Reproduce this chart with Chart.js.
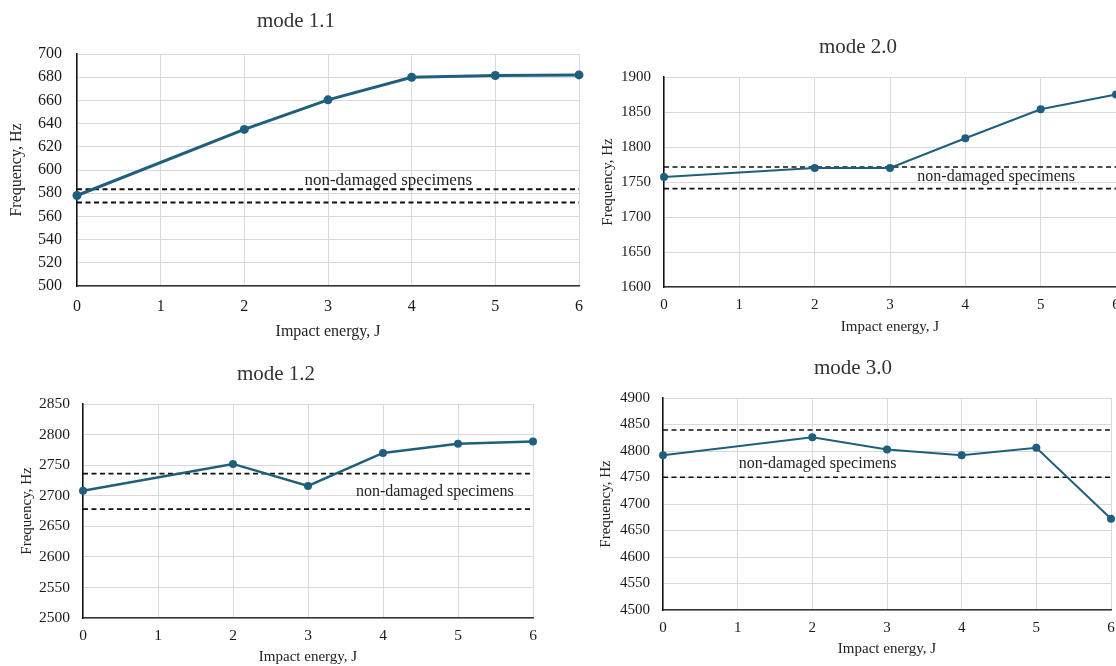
<!DOCTYPE html>
<html>
<head>
<meta charset="utf-8">
<script src="https://cdn.jsdelivr.net/npm/chart.js@4.4.1/dist/chart.umd.min.js"></script>
<style>
  html, body { margin: 0; padding: 0; background: #fff; }
  body { width: 1116px; height: 666px; position: relative; overflow: hidden; }
  canvas { position: absolute; }
</style>
</head>
<body>
<canvas id="c11" width="600" height="346" style="left:0;top:0"></canvas>
<canvas id="c20" width="540" height="340" style="left:596px;top:0"></canvas>
<canvas id="c12" width="560" height="316" style="left:0;top:350px"></canvas>
<canvas id="c30" width="540" height="316" style="left:596px;top:350px"></canvas>
<script>
// impact energy, J
const energy = [0, 2, 3, 4, 5, 6];
const energyTicks = [0, 1, 2, 3, 4, 5, 6];

// natural frequencies, Hz
const mode11 = [578, 635, 660.5, 680, 681.5, 682];
const mode20 = [1757, 1770, 1770, 1812.5, 1854, 1875];
const mode12 = [2708, 2752, 2716, 2770, 2785, 2788.5];
const mode30 = [4792, 4826, 4803, 4792, 4806, 4672];

// non-damaged specimens band [lower, upper]
const band11 = [572, 583.5];
const band20 = [1740.5, 1771.5];
const band12 = [2678, 2736];
const band30 = [4750.5, 4839.5];

// y axis [min, max, step]
const yAxis11 = [500, 700, 20];
const yAxis20 = [1600, 1900, 50];
const yAxis12 = [2500, 2850, 50];
const yAxis30 = [4500, 4900, 50];

const noteText = 'non-damaged specimens';
const FONT = "'Liberation Serif', 'Times New Roman', serif";
const LINE = '#1f5f7d';

const panelTitle = {
  id: 'panelTitle',
  afterDraw(chart, args, o) {
    const ctx = chart.ctx;
    ctx.save();
    ctx.font = o.size + 'px ' + FONT;
    ctx.fillStyle = '#333';
    ctx.textAlign = 'center';
    ctx.textBaseline = 'middle';
    ctx.fillText(o.text, o.x, o.y);
    ctx.restore();
  }
};

const bandNote = {
  id: 'bandNote',
  afterDatasetsDraw(chart, args, o) {
    const ctx = chart.ctx;
    const x = chart.scales.x.getPixelForValue(o.x);
    const y = chart.scales.y.getPixelForValue(o.y);
    ctx.save();
    ctx.font = o.size + 'px ' + FONT;
    ctx.fillStyle = '#222';
    ctx.textAlign = 'center';
    ctx.textBaseline = 'middle';
    ctx.fillText(noteText, x, y);
    ctx.restore();
  }
};

function pts(xs, ys) {
  return xs.map((x, i) => ({ x: x, y: ys[i] }));
}

function flat(v) {
  return [{ x: energyTicks[0], y: v }, { x: energyTicks[energyTicks.length - 1], y: v }];
}

function makeChart(id, values, band, yAxis, c) {
  const dashed = {
    data: [], borderColor: '#111', borderWidth: c.dashWidth, borderDash: [5, 3.5],
    pointRadius: 0, fill: false, clip: false
  };
  new Chart(document.getElementById(id), {
    type: 'line',
    data: {
      datasets: [
        {
          data: pts(energy, values),
          borderColor: LINE, backgroundColor: LINE,
          borderWidth: c.lineWidth, pointRadius: c.pointR, pointBorderWidth: 0,
          pointBackgroundColor: LINE, fill: false, clip: false
        },
        Object.assign({}, dashed, { data: flat(band[1]) }),
        Object.assign({}, dashed, { data: flat(band[0]) })
      ]
    },
    options: {
      responsive: false,
      animation: false,
      layout: { padding: { top: c.top, right: c.right, left: 0, bottom: 0 } },
      plugins: {
        legend: { display: false },
        tooltip: { enabled: false },
        panelTitle: { text: c.title, x: c.titleX, y: c.titleY, size: c.titleSize },
        bandNote: { x: c.noteX, y: c.noteY, size: c.noteSize }
      },
      scales: {
        x: {
          type: 'linear',
          min: energyTicks[0],
          max: energyTicks[energyTicks.length - 1],
          afterFit: s => { s.height = c.xH; },
          ticks: {
            stepSize: 1, padding: c.xTickPad, color: '#1a1a1a',
            font: { family: FONT, size: c.tickSize },
            callback: v => String(v)
          },
          grid: { color: '#d9d9d9', lineWidth: 1, drawTicks: false },
          border: { color: '#333', width: 1.5 },
          title: {
            display: true, text: 'Impact energy, J', color: '#222',
            font: { family: FONT, size: c.axisSize }, padding: { top: 0, bottom: c.xTitlePad }
          }
        },
        y: {
          min: yAxis[0], max: yAxis[1],
          afterFit: s => { s.width = c.yW; },
          ticks: {
            stepSize: yAxis[2], padding: c.yTickPad, color: '#1a1a1a',
            font: { family: FONT, size: c.tickSize },
            callback: v => String(v)
          },
          grid: { color: '#d9d9d9', lineWidth: 1, drawTicks: false },
          border: { color: '#111', width: 1.5 },
          title: {
            display: true, text: 'Frequency, Hz', color: '#222',
            font: { family: FONT, size: c.axisSize }, padding: { top: c.yTitlePad, bottom: 0 }
          }
        }
      }
    },
    plugins: [panelTitle, bandNote]
  });
}

makeChart('c11', mode11, band11, yAxis11, {
  title: 'mode 1.1', titleX: 296, titleY: 21, titleSize: 21,
  top: 54, right: 21, yW: 77, xH: 60,
  tickSize: 16, axisSize: 16, xTickPad: 11, yTickPad: 15, xTitlePad: 5, yTitlePad: 7,
  noteX: 3.72, noteY: 591, noteSize: 17, lineWidth: 3, pointR: 4.5, dashWidth: 2
});

makeChart('c20', mode20, band20, yAxis20, {
  title: 'mode 2.0', titleX: 262, titleY: 47, titleSize: 21,
  top: 77, right: 20, yW: 68, xH: 53,
  tickSize: 15, axisSize: 15, xTickPad: 9, yTickPad: 13, xTitlePad: 4, yTitlePad: 3,
  noteX: 4.41, noteY: 1757.5, noteSize: 16, lineWidth: 2, pointR: 4, dashWidth: 1.6
});

makeChart('c12', mode12, band12, yAxis12, {
  title: 'mode 1.2', titleX: 276, titleY: 24, titleSize: 21,
  top: 54, right: 27, yW: 83, xH: 48,
  tickSize: 15.5, axisSize: 15, xTickPad: 9, yTickPad: 13, xTitlePad: 0, yTitlePad: 18,
  noteX: 4.69, noteY: 2706.5, noteSize: 16, lineWidth: 2.5, pointR: 4, dashWidth: 1.8
});

makeChart('c30', mode30, band30, yAxis30, {
  title: 'mode 3.0', titleX: 257, titleY: 18, titleSize: 21,
  top: 48, right: 25, yW: 67, xH: 56,
  tickSize: 15, axisSize: 15, xTickPad: 9, yTickPad: 13, xTitlePad: 8, yTitlePad: 1,
  noteX: 2.07, noteY: 4776, noteSize: 16, lineWidth: 2, pointR: 4, dashWidth: 1.6
});
</script>
</body>
</html>
